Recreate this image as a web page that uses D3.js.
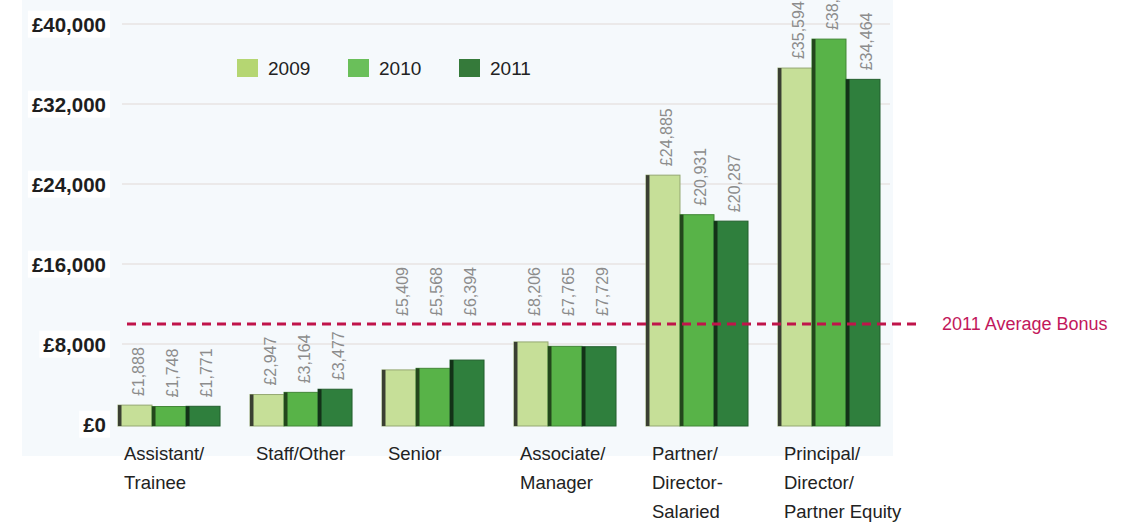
<!DOCTYPE html>
<html>
<head>
<meta charset="utf-8">
<script src="https://cdn.jsdelivr.net/npm/d3@7"></script>
<style>
  body { margin: 0; background: #fff; }
  svg { display: block; font-family: "Liberation Sans", Arial, Helvetica, sans-serif; }
</style>
</head>
<body>
<svg id="chart" width="1126" height="522"></svg>
<script>
// data
const categories = [
  ["Assistant/", "Trainee"],
  ["Staff/Other"],
  ["Senior"],
  ["Associate/", "Manager"],
  ["Partner/", "Director-", "Salaried"],
  ["Principal/", "Director/", "Partner Equity"]
];
const years = ["2009", "2010", "2011"];
const values2009 = [1888, 2947, 5409, 8206, 24885, 35594];
const values2010 = [1748, 3164, 5568, 7765, 20931, 38490];
const values2011 = [1771, 3477, 6394, 7729, 20287, 34464];
const yTicks = [0, 8000, 16000, 24000, 32000, 40000];
const averageBonus2011 = 10000;
const averageLabel = "2011 Average Bonus";

const barColors = ["#c6df98", "#58b348", "#2f7f3d"];
const legendColors = ["#b5d672", "#6abf5a", "#357a3a"];

let svg = d3.select("#chart");

let series = [values2009, values2010, values2011];
let keys = categories.map((c, i) => "c" + i);

// panel background
svg.append("rect")
  .attr("x", 22).attr("y", 0)
  .attr("width", 871).attr("height", 456)
  .attr("fill", "#f5f9fc");

let y = d3.scaleLinear()
  .domain([0, 40000])
  .range([424, 24]);

let x0 = d3.scaleBand()
  .domain(keys)
  .range([118, 880])
  .paddingInner(0.227)
  .paddingOuter(0);

let x1 = d3.scaleBand()
  .domain(years)
  .range([0, x0.bandwidth()]);

// faint gridlines
svg.append("g")
  .selectAll("line")
  .data(yTicks.slice(1))
  .enter()
  .append("line")
  .attr("x1", 122).attr("x2", 890)
  .attr("y1", d => y(d)).attr("y2", d => y(d))
  .attr("stroke", "#ebe9e9")
  .attr("stroke-width", 2);

// y axis labels (bold, on white boxes)
let fmt = d3.format(",");
let yAxis = d3.axisLeft(y)
  .tickValues(yTicks)
  .tickSize(0)
  .tickPadding(0)
  .tickFormat(d => "£" + fmt(d));

let yg = svg.append("g")
  .attr("transform", "translate(106,0)")
  .call(yAxis);
yg.select(".domain").remove();
yg.selectAll("text")
  .attr("font-family", "'Liberation Sans', Arial, sans-serif")
  .attr("font-size", 20.5)
  .attr("font-weight", "bold")
  .attr("fill", "#1e1e1e")
  .attr("dy", "0.35em");
yg.selectAll(".tick").each(function() {
  let t = d3.select(this).select("text");
  let b = t.node().getBBox();
  d3.select(this).insert("rect", "text")
    .attr("x", b.x - 4).attr("y", b.y - 2)
    .attr("width", b.width + 8).attr("height", b.height + 4)
    .attr("fill", "#fff");
});

// bars
let groups = svg.append("g")
  .selectAll("g")
  .data(keys)
  .enter()
  .append("g")
  .attr("transform", d => "translate(" + x0(d) + ",0)");

let avgY = y(averageBonus2011);

groups.each(function(k, ci) {
  let g = d3.select(this);
  years.forEach((yr, si) => {
    let v = series[si][ci];
    let bx = x1(yr);
    let bw = x1.bandwidth();
    let c = d3.color(barColors[si]);
    g.append("rect")
      .attr("x", bx).attr("y", y(v))
      .attr("width", bw).attr("height", y(0) - y(v) + 2)
      .attr("fill", barColors[si])
      .attr("stroke", c.darker(0.8))
      .attr("stroke-width", 1);
    // dark left edge for the 3D look
    g.append("rect")
      .attr("x", bx).attr("y", y(v))
      .attr("width", 3.5).attr("height", y(0) - y(v) + 2)
      .attr("fill", si === 0 ? "#3a3f32" : c.darker(2.6));
    // value label, lifted above the average line if it would cross it
    let t = g.append("text")
      .attr("font-size", 16)
      .attr("fill", "#8c8c8c")
      .attr("text-anchor", "start")
      .text("£" + fmt(v));
    let len = t.node().getComputedTextLength();
    let base = y(v) - 9;
    if (base > avgY && base - len < avgY) base = avgY - 8;
    t.attr("transform", "translate(" + (bx + bw / 2 + 9) + "," + base + ") rotate(-90)");
  });
});

// category labels
groups.append("text")
  .attr("x", 6)
  .attr("y", 460)
  .attr("font-size", 18.5)
  .attr("fill", "#222")
  .selectAll("tspan")
  .data((d, i) => categories[i])
  .enter()
  .append("tspan")
  .attr("x", 6)
  .attr("dy", (d, i) => i === 0 ? 0 : 29)
  .text(d => d);

// legend
let legend = svg.append("g")
  .selectAll("g")
  .data(years)
  .enter()
  .append("g")
  .attr("transform", (d, i) => "translate(" + (237 + i * 111) + ",59)");
legend.append("rect")
  .attr("width", 21).attr("height", 18)
  .attr("fill", (d, i) => legendColors[i]);
legend.append("text")
  .attr("x", 31).attr("y", 9).attr("dy", "0.36em")
  .attr("font-size", 19)
  .attr("fill", "#222")
  .text(d => d);

// 2011 average line
svg.append("line")
  .attr("x1", 127).attr("x2", 917)
  .attr("y1", avgY).attr("y2", avgY)
  .attr("stroke", "#c0144a")
  .attr("stroke-width", 3)
  .attr("stroke-dasharray", "9,6");
svg.append("text")
  .attr("x", 942).attr("y", avgY).attr("dy", "0.36em")
  .attr("font-size", 18)
  .attr("fill", "#c2185b")
  .text(averageLabel);
</script>
</body>
</html>
